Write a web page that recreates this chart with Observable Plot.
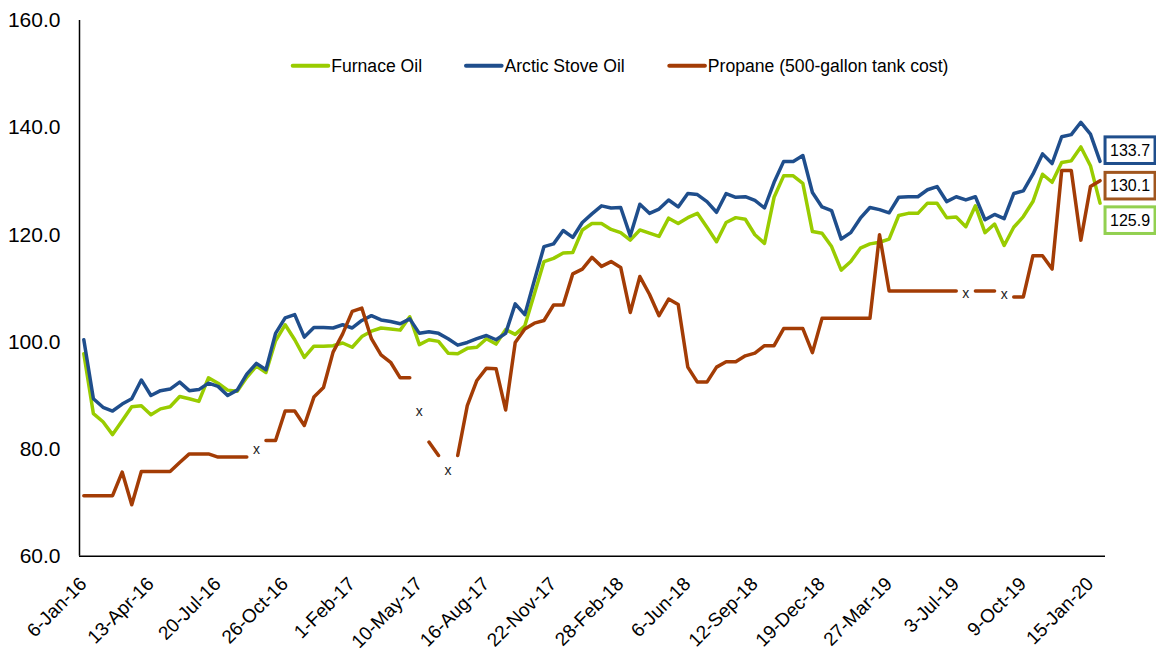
<!DOCTYPE html>
<html><head><meta charset="utf-8">
<script src="https://cdn.jsdelivr.net/npm/d3@7"></script>
<script src="https://cdn.jsdelivr.net/npm/@observablehq/plot@0.6"></script>
<style>
body{margin:0;background:#fff;}
#chart{position:relative;width:1156px;height:650px;}
</style></head><body><div id="chart"></div>
<script>
// ---- data (biweekly, 6-Jan-16 .. 29-Jan-20) ----
const furnaceOil = [97.8,86.6,85.1,82.7,85.3,87.9,88.1,86.4,87.5,87.9,
 89.8,89.4,88.9,93.3,92.3,91.0,90.8,93.4,95.5,94.3,
 100.2,103.2,100.4,97.1,99.2,99.2,99.3,99.8,99.0,101.0,
 102.0,102.6,102.4,102.2,104.7,99.5,100.4,100.1,97.9,97.8,
 98.8,99.0,100.6,99.6,102.3,101.4,103.0,109.0,115.0,115.6,
 116.6,116.7,120.9,122.1,122.1,121.0,120.4,119.0,120.9,120.3,
 119.7,123.1,122.1,123.2,124.0,121.4,118.7,122.3,123.2,122.9,
 120.0,118.4,127.0,131.0,131.0,129.6,120.6,120.3,117.8,113.4,
 115.0,117.5,118.3,118.6,119.2,123.6,124.0,124.0,125.9,125.9,
 123.2,123.3,121.5,125.4,120.4,122.0,118.0,121.4,123.4,126.2,
 131.3,129.8,133.5,133.8,136.4,132.9,125.9];
const arcticStoveOil = [100.4,89.4,87.8,87.1,88.4,89.4,92.9,90.0,90.9,91.2,
 92.5,90.9,91.1,92.3,91.7,90.0,91.0,94.0,96.0,94.8,
 101.6,104.5,105.1,100.9,102.7,102.7,102.6,103.2,102.6,104.0,
 104.9,104.1,103.8,103.4,104.3,101.6,101.9,101.6,100.6,99.4,
 99.9,100.6,101.2,100.4,101.6,107.1,105.1,111.5,117.8,118.3,
 120.8,119.5,122.3,123.9,125.4,125.0,125.1,119.8,125.7,124.0,
 124.8,126.5,125.2,127.7,127.5,126.2,124.2,127.7,127.0,127.1,
 126.4,125.0,129.8,133.7,133.7,134.8,127.9,125.2,124.5,119.2,
 120.4,123.1,125.1,124.7,124.1,127.0,127.1,127.1,128.4,129.0,
 126.2,127.1,126.5,127.1,122.8,123.8,123.0,127.7,128.2,131.3,
 135.1,133.3,138.3,138.7,141.0,138.8,133.7];
const propane = [71.3,71.3,71.3,71.3,75.7,69.6,75.8,75.8,75.8,75.8,
 77.5,79.1,79.1,79.1,78.5,78.5,78.5,78.5,null,81.6,
 81.6,87.1,87.1,84.4,89.7,91.5,98.1,101.5,105.7,106.3,
 100.6,97.6,96.2,93.3,93.3,null,81.3,78.8,null,78.8,
 88.1,92.8,95.1,95.0,87.3,99.9,102.4,103.5,104.0,106.9,
 106.9,112.7,113.6,115.8,114.1,115.0,113.9,105.5,112.2,108.9,
 104.9,108.0,107.0,95.3,92.5,92.5,95.3,96.3,96.3,97.4,
 97.9,99.3,99.3,102.5,102.5,102.5,98.0,104.4,104.4,104.4,
 104.4,104.4,104.4,120.0,109.5,109.5,109.5,109.5,109.5,109.5,
 109.5,109.5,null,109.5,109.5,109.5,null,108.4,108.4,116.1,
 116.1,113.6,132.0,132.0,119.0,129.0,130.1];
const gapIndex = [18,35,38,92,96];
const gapMarkY = [79.9,87.1,76.0,109.0,108.8];
const tickIndex = [0,7,14,21,28,35,42,49,56,63,70,77,84,91,98,105];
const tickLabels = ["6-Jan-16","13-Apr-16","20-Jul-16","26-Oct-16","1-Feb-17","10-May-17",
 "16-Aug-17","22-Nov-17","28-Feb-18","6-Jun-18","12-Sep-18","19-Dec-18","27-Mar-19",
 "3-Jul-19","9-Oct-19","15-Jan-20"];
const yTicks = [60,80,100,120,140,160];
const seriesNames = ["Furnace Oil","Arctic Stove Oil","Propane (500-gallon tank cost)"];
const seriesColors = ["#99CC00","#1F4E8C","#A33C05"];
const endValues = [133.7,130.1,125.9];
const endLabels = ["133.7","130.1","125.9"];
const endColors = ["#1F4E8C","#A0561E","#92D050"];

// ---- layout ----
const W = 1156, H = 650;
const FONT = "Arial, 'Liberation Sans', sans-serif";
const xDomain = [-0.45, 106.57];
const yDomain = [60, 160];
const lastIndex = propane.length - 1;
const endDy = [-10.7, 5.5, 17.5];

const lineOpts = (c) => ({x:(d,i)=>i, y:d=>d, stroke:c, strokeWidth:3.5, strokeLinejoin:"round", strokeLinecap:"round"});

const plot = Plot.plot({
  width:W, height:H,
  marginLeft:79, marginRight:51, marginTop:20, marginBottom:94.3,
  x:{domain:xDomain, axis:null},
  y:{domain:yDomain, axis:null},
  style:{fontFamily:FONT, fontSize:"21px", color:"#000", background:"#fff", overflow:"visible"},
  marks:[
    Plot.axisY({ticks:yTicks, tickFormat:d=>d.toFixed(1), tickSize:0, tickPadding:19, fontSize:21, label:null, fill:"#000"}),
    Plot.ruleY([yTicks[0]], {stroke:"#000", strokeWidth:1.5}),
    Plot.ruleX([xDomain[0]], {stroke:"#000", strokeWidth:1.5}),
    Plot.text(tickIndex, {x:d=>d, text:(d,i)=>tickLabels[i], frameAnchor:"bottom", rotate:-45,
      textAnchor:"end", lineAnchor:"bottom", dx:4, dy:28.9, fontSize:19, fill:"#000"}),
    Plot.lineY(furnaceOil, lineOpts(seriesColors[0])),
    Plot.lineY(arcticStoveOil, lineOpts(seriesColors[1])),
    Plot.lineY(propane, lineOpts(seriesColors[2])),
    Plot.text(gapIndex, {x:d=>d, y:(d,i)=>gapMarkY[i], text:()=>"x", fontSize:14, fill:"#222"})
  ]
});
document.getElementById("chart").appendChild(plot);

// scale functions from Plot (fallback to equivalent linear mapping)
let fx, fy;
try { const sx = plot.scale("x"), sy = plot.scale("y"); fx = v => sx.apply(v); fy = v => sy.apply(v); }
catch(e) {
  fx = d3.scaleLinear(xDomain, [79, W - 51]);
  fy = d3.scaleLinear(yDomain, [H - 94.3, 20]);
}

// boxed end labels
const svg = d3.select(plot);
const eg = svg.append("g").attr("font-family", FONT).attr("font-size", 16).attr("text-anchor", "middle");
endValues.forEach((v,k) => {
  const cx = fx(lastIndex) + 30.5, cy = fy(v) + endDy[k];
  eg.append("rect").attr("x", cx - 25).attr("y", cy - 13.3).attr("width", 50).attr("height", 26.6)
    .attr("fill", "#fff").attr("stroke", endColors[k]).attr("stroke-width", 3);
  eg.append("text").attr("x", cx).attr("y", cy + 5.4).attr("fill", "#000").text(endLabels[k]);
});

// legend inside plot area
const legendX = [292.7, 466, 669.3];
const lg = svg.append("g").attr("font-family", FONT).attr("font-size", 17.6).attr("text-anchor", "start");
seriesNames.forEach((n,k) => {
  lg.append("line").attr("x1", legendX[k]).attr("x2", legendX[k]+35.6).attr("y1", 65.7).attr("y2", 65.7)
    .attr("stroke", seriesColors[k]).attr("stroke-width", 4).attr("stroke-linecap", "round");
  lg.append("text").attr("x", legendX[k]+38.5).attr("y", 72.4).attr("fill", "#000").text(n);
});
</script></body></html>
